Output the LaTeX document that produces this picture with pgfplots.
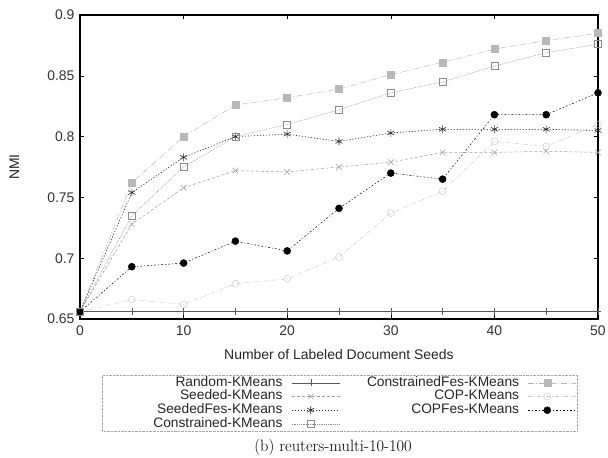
\documentclass[border=0pt]{standalone}
\usepackage{pgfplots}
\pgfplotsset{compat=1.18}
\usepackage{fontspec}
\newfontfamily\helv{Liberation Sans}
\definecolor{cRand}{gray}{0.35}
\definecolor{cSeed}{gray}{0.62}
\definecolor{cSeedF}{gray}{0.15}
\definecolor{cCons}{gray}{0.55}
\definecolor{cConsF}{gray}{0.72}
\definecolor{cCOP}{gray}{0.80}
\definecolor{cCOPF}{gray}{0.0}
\begin{document}
\begin{tikzpicture}[x=1bp,y=1bp]
\useasboundingbox (-80bp,-139bp) rectangle (528bp,319bp);
\begin{axis}[
  at={(0,0)}, anchor=south west,
  scale only axis, width=518bp, height=304bp,
  xmin=0, xmax=50, ymin=0.65, ymax=0.9,
  xtick={0,10,20,30,40,50},
  ytick={0.65,0.7,0.75,0.8,0.85,0.9},
  yticklabels={0.65,0.7,0.75,0.8,0.85,0.9},
  tick align=inside, major tick length=4bp,
  tick style={black, line width=0.6pt},
  axis line style={line width=1.3pt},
  /pgf/number format/assume math mode=true,
  tick label style={font=\helv\fontsize{14}{16}\selectfont, text=black!80},
  yticklabel style={xshift=-2bp},
  xticklabel style={yshift=-3bp},
  label style={font=\helv\fontsize{14}{16}\selectfont, text=black!85},
  xlabel={Number of Labeled Document Seeds},
  ylabel={NMI},
  xlabel style={at={(axis description cs:0.5,-0.118)}, anchor=center},
  ylabel style={at={(axis description cs:-0.127,0.5)}, anchor=center},
  clip=false,
  legend columns=2,
  legend plot pos=right,
  legend style={at={(0.502,-0.184)}, anchor=north,
    font=\helv\fontsize{13.8}{14}\selectfont,
    draw=gray!70, densely dotted, inner sep=1bp, row sep=0.4bp,
    nodes={inner ysep=0.5bp, text height=9.6bp, text depth=2.7bp},
    /tikz/every odd column/.append style={column sep=7bp, nodes={text width=177bp, align=right}},
    /tikz/every even column/.append style={column sep=0bp},
    text=black!85},
  legend image code/.code={
    \draw[mark repeat=2,mark phase=2] plot coordinates {(0bp,0bp) (19bp,0bp) (38bp,0bp)};
    \path (0bp,0bp) -- (48bp,0bp);},
]
\addplot[cRand, solid, line width=0.5pt, mark=+, mark size=3.5bp, mark options={solid}] coordinates {
(0,0.656) (5,0.656) (10,0.656) (15,0.656) (20,0.656) (25,0.656) (30,0.656) (35,0.656) (40,0.656) (45,0.656) (50,0.656)};
\addlegendentry{Random-KMeans}
\addplot[cConsF, dash pattern=on 6bp off 2bp on 1bp off 2bp, line width=0.5pt, mark=square*, mark size=3.5bp, mark options={solid, fill=cConsF, draw=cConsF}] coordinates {
(0,0.656) (5,0.762) (10,0.800) (15,0.826) (20,0.832) (25,0.839) (30,0.851) (35,0.861) (40,0.872) (45,0.879) (50,0.885)};
\addlegendentry{ConstrainedFes-KMeans}
\addplot[cSeed, dash pattern=on 3bp off 2bp, line width=0.5pt, mark=x, mark size=4bp, mark options={solid}] coordinates {
(0,0.656) (5,0.728) (10,0.758) (15,0.772) (20,0.771) (25,0.775) (30,0.779) (35,0.787) (40,0.787) (45,0.788) (50,0.787)};
\addlegendentry{Seeded-KMeans}
\addplot[cCOP, dash pattern=on 4bp off 2bp on 1bp off 2bp, line width=0.5pt, mark=o, mark size=3.5bp, mark options={solid}] coordinates {
(0,0.656) (5,0.666) (10,0.662) (15,0.679) (20,0.683) (25,0.701) (30,0.737) (35,0.755) (40,0.796) (45,0.792) (50,0.810)};
\addlegendentry{COP-KMeans}
\addplot[cSeedF, dash pattern=on 1.2bp off 1.8bp, line width=0.6pt, mark=asterisk, mark size=4bp, mark options={solid}] coordinates {
(0,0.656) (5,0.754) (10,0.783) (15,0.800) (20,0.802) (25,0.796) (30,0.803) (35,0.806) (40,0.806) (45,0.806) (50,0.805)};
\addlegendentry{SeededFes-KMeans}
\addplot[cCOPF, dash pattern=on 2bp off 2bp on 1bp off 2bp, line width=0.5pt, mark=*, mark size=3.5bp, mark options={solid}] coordinates {
(0,0.656) (5,0.693) (10,0.696) (15,0.714) (20,0.706) (25,0.741) (30,0.770) (35,0.765) (40,0.818) (45,0.818) (50,0.836)};
\addlegendentry{COPFes-KMeans}
\addplot[cCons, dash pattern=on 0.8bp off 1bp, line width=0.5pt, mark=square, mark size=3.5bp, mark options={solid}] coordinates {
(0,0.656) (5,0.735) (10,0.775) (15,0.800) (20,0.810) (25,0.822) (30,0.836) (35,0.845) (40,0.858) (45,0.869) (50,0.876)};
\addlegendentry{Constrained-KMeans}
\end{axis}
\node[font=\fontsize{16.5}{18}\selectfont] at (253bp,-128bp) {(b) reuters-multi-10-100};
\end{tikzpicture}
\end{document}
